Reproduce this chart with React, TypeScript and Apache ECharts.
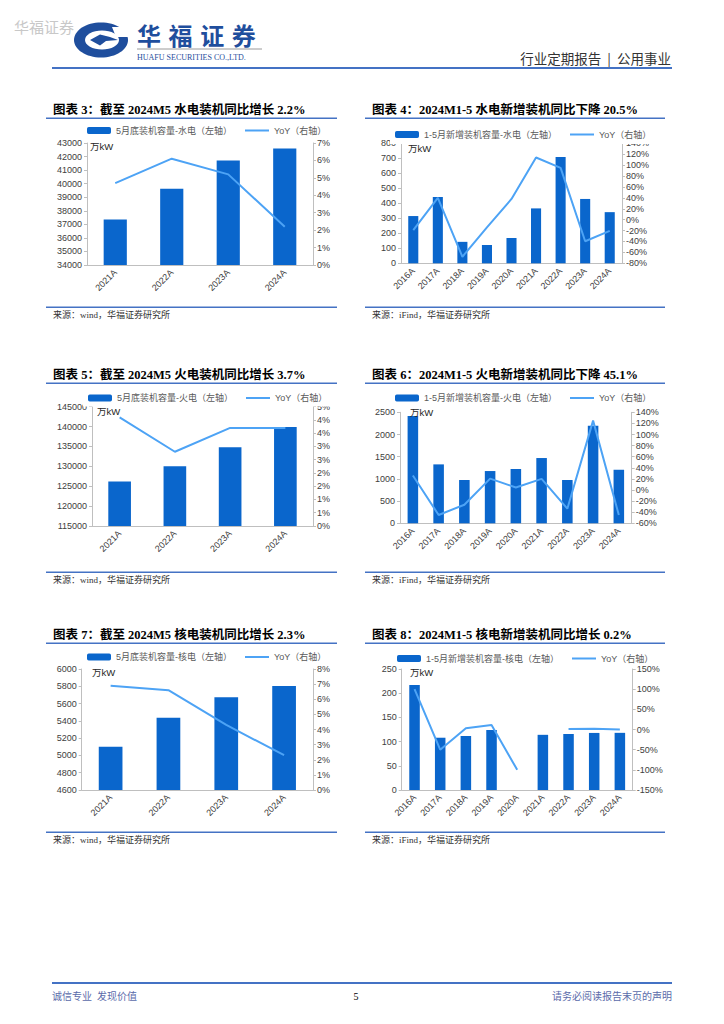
import React, { useEffect, useRef } from 'react';
import * as echarts from 'echarts';

// ---------- data ----------
const years4 = ['2021A', '2022A', '2023A', '2024A'];
const years9 = ['2016A', '2017A', '2018A', '2019A', '2020A', '2021A', '2022A', '2023A', '2024A'];

const hydroCap = [37350, 39620, 41700, 42600];
const hydroCapYoY = [4.7, 6.1, 5.2, 2.2];

const hydroNew = [315, 442, 143, 122, 169, 366, 709, 429, 341];
const hydroNewYoY = [-19, 40, -68, -14, 38, 114, 95, -39.5, -20.5];

const thermalCap = [126200, 130000, 134800, 139900];
const thermalCapYoY = [4.1, 2.8, 3.7, 3.7];

const thermalNew = [2415, 1327, 975, 1177, 1222, 1470, 975, 2197, 1206];
const thermalNewYoY = [26, -45, -26.5, 20.5, 4.5, 20, -33.7, 125, -45.1];

const nuclearCap = [5100, 5437, 5672, 5803];
const nuclearCapYoY = [6.9, 6.6, 4.3, 2.3];

const nuclearNew = [217, 108, 111.6, 124, null, 114, 115.7, 117.9, 118.1];
const nuclearNewYoY = [100, -50, 3, 11, -100, null, 1.5, 1.8, 0.2];

const barNames = [
  '5月底装机容量-水电（左轴）',
  '1-5月新增装机容量-水电（左轴）',
  '5月底装机容量-火电（左轴）',
  '1-5月新增装机容量-火电（左轴）',
  '5月底装机容量-核电（左轴）',
  '1-5月新增装机容量-核电（左轴）',
];
const lineName = 'YoY（右轴）';

const titles = [
  '图表 3：截至 2024M5 水电装机同比增长 2.2%',
  '图表 4：2024M1-5 水电新增装机同比下降 20.5%',
  '图表 5：截至 2024M5 火电装机同比增长 3.7%',
  '图表 6：2024M1-5 火电新增装机同比下降 45.1%',
  '图表 7：截至 2024M5 核电装机同比增长 2.3%',
  '图表 8：2024M1-5 核电新增装机同比增长 0.2%',
];
const sources = [
  '来源：wind，华福证券研究所',
  '来源：iFind，华福证券研究所',
  '来源：wind，华福证券研究所',
  '来源：iFind，华福证券研究所',
  '来源：wind，华福证券研究所',
  '来源：iFind，华福证券研究所',
];

// ---------- style ----------
const BAR_COLOR = '#0A66CC';
const LINE_COLOR = '#4DA3F5';
const AXIS_COLOR = '#BFBFBF';
const LABEL_COLOR = '#404040';
const RULE_COLOR = '#4472C4';
const SANS = "'Liberation Sans', 'Noto Sans CJK SC', sans-serif";
const SERIF = "'Liberation Serif', 'Noto Sans CJK SC', serif";

const panels = [
  { cats: years4, bar: hydroCap, line: hydroCapYoY, grid: { left: 87, top: 143, width: 226, height: 122 },
    l: [34000, 43000, 1000], r: [0, 7, 1], legend: { left: 82, top: 125, pb: 0 }, unit: [90, 146] },
  { cats: years9, bar: hydroNew, line: hydroNewYoY, grid: { left: 401, top: 143.3, width: 221, height: 120 },
    l: [0, 800, 100], r: [-80, 140, 20], legend: { left: 390, top: 129, pb: 5 }, unit: [408, 148] },
  { cats: years4, bar: thermalCap, line: thermalCapYoY, grid: { left: 92, top: 406.7, width: 221, height: 119.3 },
    l: [115000, 145000, 5000], r: [0, 4.5, 0.5], legend: { left: 83, top: 392.5, pb: 4 }, unit: [97, 411] },
  { cats: years9, bar: thermalNew, line: thermalNewYoY, grid: { left: 400, top: 412.3, width: 231.7, height: 111 },
    l: [0, 2500, 500], r: [-60, 140, 20], legend: { left: 390, top: 392.5, pb: 0 }, unit: [410, 412] },
  { cats: years4, bar: nuclearCap, line: nuclearCapYoY, grid: { left: 81.7, top: 669, width: 231.3, height: 121 },
    l: [4600, 6000, 200], r: [0, 8, 1], legend: { left: 82, top: 651.5, pb: 0 }, unit: [92, 672] },
  { cats: years9, bar: nuclearNew, line: nuclearNewYoY, grid: { left: 401.7, top: 669, width: 231, height: 121 },
    l: [0, 250, 50], r: [-150, 150, 50], legend: { left: 392, top: 653, pb: 0 }, unit: [410, 672] },
];

const titlePos = [
  [53, 110], [372, 110], [53, 375], [372, 375], [53, 635], [372, 635],
];
const ruleX = [[46, 337], [365, 665]];

function buildOption() {
  const grid: any[] = [];
  const xAxis: any[] = [];
  const yAxis: any[] = [];
  const series: any[] = [];
  const legend: any[] = [];
  const graphic: any[] = [];

  panels.forEach((p, i) => {
    grid.push({ ...p.grid, containLabel: false });
    xAxis.push({
      type: 'category', gridIndex: i, data: p.cats,
      axisLine: { show: true, onZero: false, lineStyle: { color: AXIS_COLOR, width: 1 } },
      axisTick: { show: false },
      axisLabel: { interval: 0, rotate: 45, fontSize: 9, color: LABEL_COLOR, fontFamily: SANS, margin: 6 },
      splitLine: { show: false },
    });
    yAxis.push({
      type: 'value', gridIndex: i, position: 'left', min: p.l[0], max: p.l[1], interval: p.l[2],
      axisLine: { show: true, lineStyle: { color: AXIS_COLOR } },
      axisTick: { show: true, length: 3, lineStyle: { color: AXIS_COLOR } },
      axisLabel: { fontSize: 9, color: LABEL_COLOR, fontFamily: SANS, margin: 5,
        formatter: (v: number) => String(v) },
      splitLine: { show: false },
    });
    yAxis.push({
      type: 'value', gridIndex: i, position: 'right', min: p.r[0], max: p.r[1], interval: p.r[2],
      axisLine: { show: true, lineStyle: { color: AXIS_COLOR } },
      axisTick: { show: true, length: 3, lineStyle: { color: AXIS_COLOR } },
      axisLabel: { fontSize: 9, color: LABEL_COLOR, fontFamily: SANS, margin: 4,
        formatter: (v: number) => Math.round(v) + '%' },
      splitLine: { show: false },
    });
    series.push({
      type: 'bar', name: barNames[i], xAxisIndex: i, yAxisIndex: 2 * i, data: p.bar,
      barWidth: '41%', itemStyle: { color: BAR_COLOR },
    });
    series.push({
      type: 'line', name: lineName, xAxisIndex: i, yAxisIndex: 2 * i + 1, data: p.line,
      symbol: 'none', connectNulls: false, lineStyle: { color: LINE_COLOR, width: 2 }, itemStyle: { color: LINE_COLOR },
      z: 5,
    });
    legend.push({
      left: p.legend.left, top: p.legend.top,
      data: [barNames[i], { name: lineName, itemStyle: { opacity: 0 } }],
      itemWidth: 24, itemHeight: 7, itemGap: 12, backgroundColor: '#fff',
      padding: [1, 20, p.legend.pb, 5], z: 10, selectedMode: false,
      textStyle: { fontSize: 9, color: '#595959', fontFamily: SANS },
    });

    const [tx, ty] = titlePos[i];
    const side = i % 2;
    const [rx1, rx2] = ruleX[side];
    graphic.push({
      type: 'text', x: tx, y: ty, z: 100,
      style: { text: titles[i], fontSize: 12.5, fontWeight: 'bold', fontFamily: SERIF, fill: '#000', align: 'left', verticalAlign: 'middle' },
    });
    graphic.push({ type: 'line', z: 100, shape: { x1: rx1, y1: ty + 8.3, x2: rx2, y2: ty + 8.3 }, style: { stroke: RULE_COLOR, lineWidth: 1.5 } });
    graphic.push({ type: 'line', z: 100, shape: { x1: rx1, y1: ty + 197.3, x2: rx2, y2: ty + 197.3 }, style: { stroke: RULE_COLOR, lineWidth: 1.5 } });
    graphic.push({
      type: 'text', x: tx, y: ty + 205, z: 100,
      style: { text: sources[i], fontSize: 9, fontFamily: SERIF, fill: '#333', align: 'left', verticalAlign: 'middle' },
    });
    graphic.push({
      type: 'text', x: p.unit[0], y: p.unit[1], z: 100,
      style: { text: '万kW', fontSize: 9.5, fontFamily: SANS, fill: '#262626', align: 'left', verticalAlign: 'middle' },
    });
  });

  // header
  graphic.push({
    type: 'text', x: 14, y: 27, z: 100,
    style: { text: '华福证券', fontSize: 15, fontFamily: SANS, fill: '#C8C8C8', align: 'left', verticalAlign: 'middle' },
  });
  graphic.push({ type: 'ellipse', z: 100, shape: { cx: 101, cy: 40, rx: 27, ry: 17.5 }, style: { fill: '#1F4E9D' } });
  graphic.push({ type: 'ellipse', z: 101, shape: { cx: 102, cy: 40, rx: 17, ry: 9.5 }, style: { fill: '#fff' } });
  graphic.push({ type: 'polygon', z: 102, shape: { points: [[112, 27], [131, 27], [131, 37], [116, 37]] }, style: { fill: '#fff' } });
  graphic.push({ type: 'polygon', z: 103, shape: { points: [[90, 40], [100, 34.5], [110, 37], [118, 40], [106, 41], [100, 45.5]] }, style: { fill: '#1F4E9D' } });
  ['华', '福', '证', '券'].forEach((c, k) => {
    graphic.push({
      type: 'text', x: 137 + k * 31.6, y: 34, z: 100,
      style: { text: c, fontSize: 24, fontWeight: 'bold', fontFamily: "'Noto Sans CJK SC', sans-serif", fill: '#1F4E9D', align: 'left', verticalAlign: 'middle' },
    });
  });
  graphic.push({ type: 'line', z: 100, shape: { x1: 137, y1: 49, x2: 262, y2: 49 }, style: { stroke: '#9A9A9A', lineWidth: 1 } });
  graphic.push({
    type: 'text', x: 137, y: 57.5, z: 100,
    style: { text: 'HUAFU SECURITIES CO.,LTD.', fontSize: 8, fontFamily: SERIF, fill: '#1F4E9D', align: 'left', verticalAlign: 'middle' },
  });
  graphic.push({
    type: 'text', x: 671, y: 58, z: 100,
    style: { text: '行业定期报告  |  公用事业', fontSize: 13.5, fontFamily: "'Noto Sans CJK SC', sans-serif", fill: '#333', align: 'right', verticalAlign: 'middle' },
  });
  graphic.push({ type: 'line', z: 100, shape: { x1: 52, y1: 68, x2: 672, y2: 68 }, style: { stroke: RULE_COLOR, lineWidth: 2 } });

  // footer
  graphic.push({ type: 'line', z: 100, shape: { x1: 52, y1: 983, x2: 672, y2: 983 }, style: { stroke: RULE_COLOR, lineWidth: 2 } });
  graphic.push({
    type: 'text', x: 52, y: 996, z: 100,
    style: { text: '诚信专业  发现价值', fontSize: 10, fontFamily: SERIF, fill: '#5B6BAA', align: 'left', verticalAlign: 'middle' },
  });
  graphic.push({
    type: 'text', x: 356, y: 996, z: 100,
    style: { text: '5', fontSize: 10, fontFamily: SERIF, fill: '#000', align: 'center', verticalAlign: 'middle' },
  });
  graphic.push({
    type: 'text', x: 672, y: 996, z: 100,
    style: { text: '请务必阅读报告末页的声明', fontSize: 10, fontFamily: SERIF, fill: '#5B6BAA', align: 'right', verticalAlign: 'middle' },
  });

  return {
    animation: false,
    backgroundColor: '#fff',
    grid, xAxis, yAxis, series, legend, graphic,
  };
}

export default function App() {
  const ref = useRef<HTMLDivElement>(null);
  useEffect(() => {
    if (!ref.current) return;
    const chart = echarts.init(ref.current, null, { renderer: 'svg' });
    chart.setOption(buildOption() as any);
    return () => chart.dispose();
  }, []);
  return (
    <div
      ref={ref}
      style={{ position: 'absolute', left: 0, top: 0, width: 724, height: 1024, background: '#fff' }}
    />
  );
}
